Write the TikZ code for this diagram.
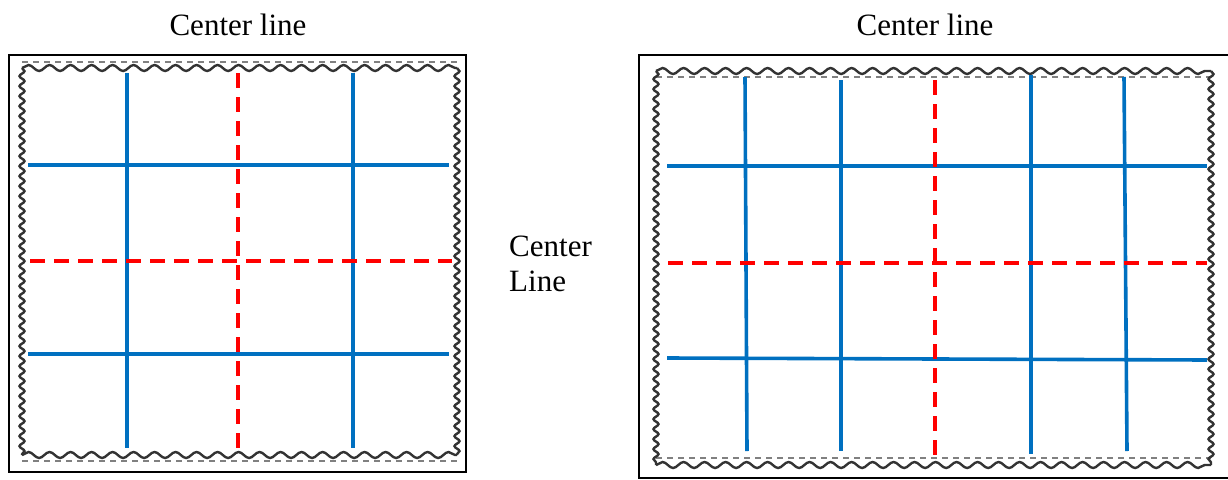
\documentclass[tikz,border=0pt]{standalone}
\usepackage{fontspec}
\setmainfont{Liberation Serif}
\usetikzlibrary{decorations.pathmorphing}
\definecolor{gridblue}{RGB}{0,112,192}
\definecolor{gridred}{RGB}{255,0,0}
\begin{document}
\begin{tikzpicture}[x=1pt,y=-1pt,
  frame/.style={draw=black,line width=2.5pt},
  wavyh/.style={draw=black!80,line width=2.4pt,decorate,decoration={snake,segment length=21pt,amplitude=3pt}},
  wavyv/.style={draw=black!80,line width=2.4pt,decorate,decoration={snake,segment length=10pt,amplitude=2.5pt}},
  dotsh/.style={draw=black!50,line width=1.6pt,dash pattern=on 6pt off 5pt},
  gline/.style={draw=gridblue,line width=3.6pt},
  cline/.style={draw=gridred,line width=3.6pt,dash pattern=on 15pt off 9pt},
  lbl/.style={font=\fontsize{31}{35}\selectfont,inner sep=0pt}]
\useasboundingbox (0,0) rectangle (1228,479);
% ---------------- left panel
\draw[frame] (9,55) rectangle (466,472);
\draw[wavyh] (22,68) -- (457,68);
\draw[wavyh] (22,455) -- (457,455);
\draw[dotsh] (22,62) -- (457,62);
\draw[dotsh] (22,461) -- (457,461);
\draw[wavyv] (22,68) -- (22,455);
\draw[wavyv] (457,68) -- (457,455);
\draw[gline] (127,73) -- (127,448);
\draw[gline] (353,73) -- (353,448);
\draw[gline] (28,165) -- (449,165);
\draw[gline] (28,354) -- (449,354);
\draw[cline] (238,73) -- (238,451);
\draw[cline] (30,261) -- (452,261);
\node[lbl] (tl) at (238,25) {Center line};
% ---------------- right panel
\draw[frame] (639,55) rectangle (1240,478);
\draw[wavyh] (656,71) -- (1211,71);
\draw[wavyh] (656,465) -- (1211,465);
\draw[dotsh] (656,77) -- (1211,77);
\draw[dotsh] (656,458) -- (1211,458);
\draw[wavyv] (656,71) -- (656,465);
\draw[wavyv] (1211,71) -- (1211,465);
\draw[gline] (745,77) -- (747,451);
\draw[gline] (841,80) -- (841,451);
\draw[gline] (1031,75) -- (1031,454);
\draw[gline] (1124,77) -- (1127,451);
\draw[gline] (667,166) -- (1207,166);
\draw[gline] (667,358) -- (1207,360);
\draw[cline] (935,80) -- (935,455);
\draw[cline] (668,263) -- (1207,263);
\node[lbl] (tr) at (925,25) {Center line};
% ---------------- middle label
\node[lbl,anchor=west,align=left] (cm) at (509,264) {Center\\Line};
\end{tikzpicture}
\end{document}
